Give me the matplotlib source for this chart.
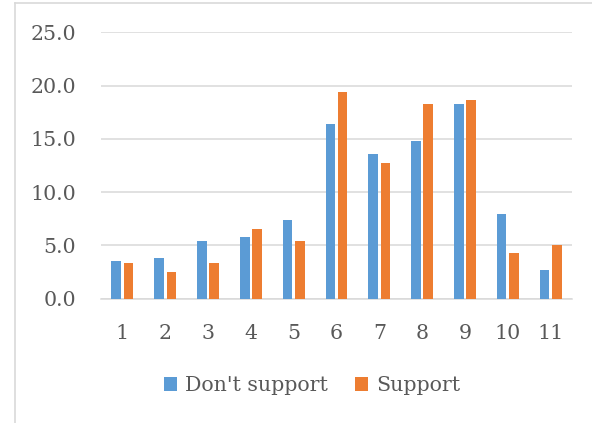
import matplotlib
matplotlib.use("Agg")
import matplotlib.pyplot as plt
from matplotlib.lines import Line2D
from matplotlib.patches import Patch
import numpy as np

categories = ["1", "2", "3", "4", "5", "6", "7", "8", "9", "10", "11"]
dont_support = [3.5, 3.8, 5.4, 5.8, 7.4, 16.4, 13.6, 14.8, 18.3, 7.9, 2.7]
support = [3.3, 2.5, 3.3, 6.5, 5.4, 19.4, 12.7, 18.3, 18.7, 4.3, 5.0]
series_names = ["Don't support", "Support"]
y_ticks = [0, 5, 10, 15, 20, 25]

BLUE = "#5B9BD5"
ORANGE = "#ED7D31"
GRID = "#D9D9D9"
TEXT = "#595959"

plt.rcParams["font.family"] = ["DejaVu Serif"]

fig = plt.figure(figsize=(5.92, 4.23), dpi=100)
ax = fig.add_axes([0.1706, 0.2943, 0.7956, 0.6289])

x = np.arange(len(categories))
w = 0.225
gap = 0.06
ax.bar(x - (w + gap) / 2, dont_support, width=w, color=BLUE, zorder=3)
ax.bar(x + (w + gap) / 2, support, width=w, color=ORANGE, zorder=3)

ax.set_xlim(-0.5, len(categories) - 0.5)
ax.set_ylim(0, 25)
ax.set_yticks(y_ticks)
ax.set_yticklabels([f"{v:.1f}" for v in y_ticks])
ax.set_xticks(x)
ax.set_xticklabels(categories)

ax.yaxis.grid(True, color=GRID, linewidth=1.1, zorder=0)
for side in ["top", "right", "left"]:
    ax.spines[side].set_visible(False)
ax.spines["bottom"].set_color(GRID)
ax.spines["bottom"].set_linewidth(1.1)
ax.tick_params(axis="both", length=0, labelsize=14.8, labelcolor=TEXT)
ax.tick_params(axis="y", pad=18)
ax.tick_params(axis="x", pad=18.5)

handles = [Patch(facecolor=BLUE), Patch(facecolor=ORANGE)]
fig.legend(handles, series_names, loc="center", bbox_to_anchor=(0.527, 0.0875),
           ncol=2, frameon=False, fontsize=14.8, labelcolor=TEXT,
           handlelength=0.65, handleheight=0.65, handletextpad=0.4,
           columnspacing=1.3)

# chart area border (left and top edges)
fig.add_artist(Line2D([14.5 / 592, 14.5 / 592], [0, 1 - 3.5 / 423],
                      transform=fig.transFigure, color=GRID, linewidth=1.2))
fig.add_artist(Line2D([14.5 / 592, 1], [1 - 3.5 / 423, 1 - 3.5 / 423],
                      transform=fig.transFigure, color=GRID, linewidth=1.2))

fig.savefig("out.png", dpi=100, facecolor="white")
